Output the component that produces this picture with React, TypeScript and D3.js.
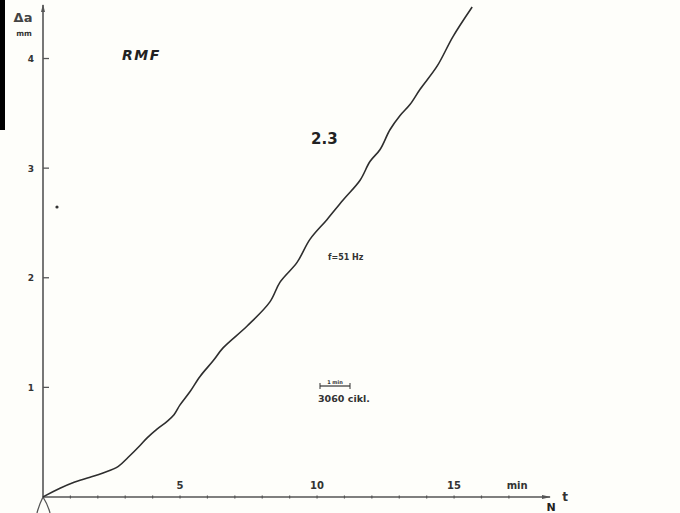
import React from "react";
import * as d3 from "d3";

// cycles time (min) vs crack growth Δa (mm)
const timeMin = [0, 0.07, 0.62, 1.09, 1.72, 2.19, 2.75, 3.1, 3.54, 3.8, 4.16, 4.53, 4.78, 5.0, 5.36, 5.73, 6.2, 6.57, 7.45, 8.28, 8.65, 9.27, 9.74, 10.36, 10.95, 11.57, 11.93, 12.3, 12.66, 13.03, 13.39, 13.76, 14.38, 14.96, 15.66];
const deltaA = [0, 0.01, 0.08, 0.13, 0.18, 0.22, 0.28, 0.36, 0.47, 0.54, 0.62, 0.69, 0.75, 0.84, 0.96, 1.1, 1.24, 1.36, 1.56, 1.78, 1.96, 2.14, 2.35, 2.53, 2.71, 2.89, 3.06, 3.17, 3.35, 3.48, 3.58, 3.72, 3.93, 4.2, 4.47];
const yTicks = [1, 2, 3, 4];
const xMinorTicks = d3.range(1, 18);
const xLabels = [5, 10, 15];

const W = 680;
const H = 513;

export default function App() {
  const x = d3.scaleLinear().domain([0, 18.5]).range([43, 550]);
  const y = d3.scaleLinear().domain([0, 4.47]).range([497, 7]);
  const pts: [number, number][] = timeMin.map((t, i) => [t, deltaA[i]]);
  const line = d3
    .line<[number, number]>()
    .x((d) => x(d[0]))
    .y((d) => y(d[1]))
    .curve(d3.curveCatmullRom.alpha(0.5));
  const ink = "#2e2e2e";
  const axisC = "#555";
  const font = "'DejaVu Sans', 'Liberation Sans', Arial, sans-serif";
  return (
    <svg
      width={W}
      height={H}
      style={{ position: "absolute", left: 0, top: 0, background: "#fefefa" }}
      fontFamily={font}
    >
      <rect x={0} y={0} width={W} height={H} fill="#fefefa" />
      <rect x={0} y={0} width={5} height={130} fill="#000" />
      {/* y axis */}
      <line x1={x(0)} y1={y(0)} x2={x(0)} y2={5} stroke={axisC} strokeWidth={1.6} />
      <path d={`M${x(0) - 2},12 L${x(0)},4 L${x(0) + 2},12 Z`} fill={axisC} />
      {yTicks.map((v) => (
        <g key={v}>
          <line x1={x(0)} x2={x(0) + 6} y1={y(v)} y2={y(v)} stroke={axisC} strokeWidth={1.3} />
          <text x={31} y={y(v) + 3.5} fontSize={9} fontWeight="bold" textAnchor="middle" fill="#333">
            {v}
          </text>
        </g>
      ))}
      <text x={23} y={22} fontSize={13} fontWeight="bold" textAnchor="middle" fill="#444">Δa</text>
      <text x={24} y={36} fontSize={7.5} fontWeight="bold" textAnchor="middle" fill="#333">mm</text>
      {/* x axis */}
      <line x1={x(0)} y1={y(0)} x2={550} y2={y(0)} stroke={axisC} strokeWidth={1.6} />
      <path d={`M542,${y(0) - 2} L551,${y(0)} L542,${y(0) + 2} Z`} fill={axisC} />
      {xMinorTicks.map((v) => (
        <line key={v} x1={x(v)} x2={x(v)} y1={y(0) - 1.5} y2={y(0) + 1.5} stroke={axisC} strokeWidth={1.2} />
      ))}
      {xLabels.map((v) => (
        <text key={v} x={x(v)} y={y(0) - 8} fontSize={10} fontWeight="bold" textAnchor="middle" fill="#333">
          {v}
        </text>
      ))}
      <text x={x(17.3)} y={y(0) - 8} fontSize={10} fontWeight="bold" textAnchor="middle" fill="#333">min</text>
      <text x={551} y={511} fontSize={11} fontWeight="bold" textAnchor="middle" fill="#222">N</text>
      <text x={565} y={501} fontSize={12} fontWeight="bold" textAnchor="middle" fill="#333">t</text>
      {/* origin marks */}
      <path d={`M${x(0)},${y(0)} Q39,505 37,513`} fill="none" stroke={axisC} strokeWidth={1.3} />
      <path d={`M${x(0)},${y(0)} Q48,505 50,513`} fill="none" stroke={axisC} strokeWidth={1.3} />
      {/* curve */}
      <path d={line(pts) || ""} fill="none" stroke={ink} strokeWidth={1.6} />
      {/* annotations */}
      <text x={122} y={60} fontSize={14} fontWeight="bold" fontStyle="italic" letterSpacing={1.5} fill="#222">RMF</text>
      <text x={311} y={144} fontSize={15} fontWeight="bold" fill="#222">2.3</text>
      <text x={328} y={260} fontSize={8} fontWeight="bold" fill="#333">f=51 Hz</text>
      <line x1={320} x2={350} y1={386} y2={386} stroke="#333" strokeWidth={1.2} />
      <line x1={320} x2={320} y1={383} y2={389} stroke="#333" strokeWidth={1} />
      <line x1={350} x2={350} y1={383} y2={389} stroke="#333" strokeWidth={1} />
      <text x={335} y={384} fontSize={5} fontWeight="bold" textAnchor="middle" fill="#333">1 min</text>
      <text x={318} y={402} fontSize={9.5} fontWeight="bold" fill="#333">3060 cikl.</text>
      <circle cx={57} cy={207} r={1.6} fill="#333" />
    </svg>
  );
}
